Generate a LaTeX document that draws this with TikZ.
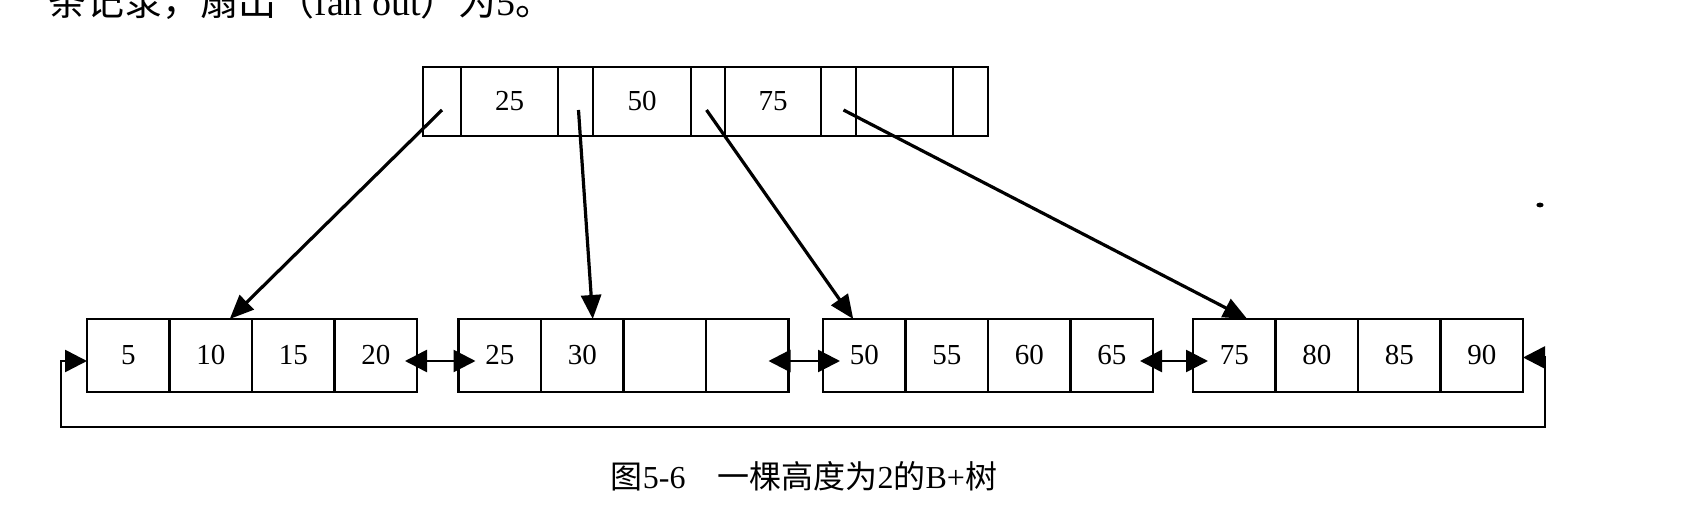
\documentclass[tikz,border=0pt]{standalone}
\usepackage{fontspec}
\setmainfont{Liberation Serif}
\newfontfamily\cjk{Noto Sans CJK SC}
\usetikzlibrary{arrows.meta}
\begin{document}
\begin{tikzpicture}[x=0.5pt,y=-0.5pt,
  numfont/.style={font=\fontsize{14.5}{17}\selectfont},
  leaf/.style={draw, line width=1.4pt, minimum width=41.25pt, minimum height=36.5pt, inner sep=0pt, outer sep=0pt, numfont},
  topcell/.style={draw, line width=1.4pt, minimum height=34.5pt, inner sep=0pt, outer sep=0pt, numfont},
  ptr/.style={line width=1.6pt, -{Triangle[length=12pt,width=10pt]}},
  link/.style={line width=1.3pt, {Triangle[length=11pt,width=11pt]}-{Triangle[length=11pt,width=11pt]}}
]
\useasboundingbox (0,0) rectangle (1694,518);
\clip (0,0) rectangle (1694,518);

% cut-off line of body text at the top
\node[anchor=base west, inner sep=0pt, font=\fontsize{19}{22}\selectfont] (toptext) at (48,16)
  {{\cjk 条记录，扇出（}fan out{\cjk ）为}5{\cjk 。}};

% root node
\node[topcell, minimum width=19pt]   (p1) at (442,101.5) {};
\node[topcell, minimum width=48.5pt] (k1) at (509.5,101.5) {25};
\node[topcell, minimum width=17.5pt] (p2) at (575.5,101.5) {};
\node[topcell, minimum width=49pt]   (k2) at (642,101.5) {50};
\node[topcell, minimum width=17pt]   (p3) at (708,101.5) {};
\node[topcell, minimum width=48pt]   (k3) at (773,101.5) {75};
\node[topcell, minimum width=17.5pt] (p4) at (838.5,101.5) {};
\node[topcell, minimum width=48.5pt] (k4) at (904.5,101.5) {};
\node[topcell, minimum width=17.5pt] (p5) at (970.5,101.5) {};

% leaves
\foreach \i/\t in {1/5,2/10,3/15,4/20}
  \node[leaf] (l1c\i) at ({87+82.5*(\i-0.5)},355.5) {\t};
\foreach \i/\t in {1/25,2/30,3/,4/}
  \node[leaf] (l2c\i) at ({458.5+82.5*(\i-0.5)},355.5) {\t};
\foreach \i/\t in {1/50,2/55,3/60,4/65}
  \node[leaf] (l3c\i) at ({823+82.5*(\i-0.5)},355.5) {\t};
\foreach \i/\t in {1/75,2/80,3/85,4/90}
  \node[leaf] (l4c\i) at ({1193+82.5*(\i-0.5)},355.5) {\t};

% pointers from root to leaves
\draw[ptr] ([yshift=-4.25pt]p1.center) -- ([xshift=9.5pt]l1c2.north);
\draw[ptr] ([yshift=-4.25pt,xshift=1.5pt]p2.center) -- ([xshift=5.25pt]l2c2.north);
\draw[ptr] ([yshift=-4.25pt,xshift=-0.75pt]p3.center) -- ([xshift=-5.5pt]l3c1.north);
\draw[ptr] ([yshift=-4.25pt,xshift=2.5pt]p4.center) -- ([xshift=6.5pt]l4c1.north);

% sibling links
\draw[link] ([xshift=-6pt,yshift=-2.75pt]l1c4.east) -- ([xshift=8.5pt,yshift=-2.75pt]l2c1.west);
\draw[link] ([xshift=-10pt,yshift=-2.75pt]l2c4.east) -- ([xshift=8.5pt,yshift=-2.75pt]l3c1.west);
\draw[link] ([xshift=-6.5pt,yshift=-2.75pt]l3c4.east) -- ([xshift=7.5pt,yshift=-2.75pt]l4c1.west);

% loop from last leaf back to first
\coordinate (lr) at (1545,427);
\coordinate (ll) at (61,427);
\draw[link] ([yshift=-1pt]l4c4.east) -| (lr) -- (ll) |- ([yshift=-2.75pt]l1c1.west);

% speck
\fill (1540,205) ellipse [x radius=1.8pt, y radius=1.2pt];

% caption
\node[anchor=base, inner sep=0pt, font=\fontsize{16}{18}\selectfont] (cap) at (804,488)
  {{\cjk 图}5-6\hspace{1em}{\cjk 一棵高度为}2{\cjk 的}B+{\cjk 树}};
\end{tikzpicture}
\end{document}
